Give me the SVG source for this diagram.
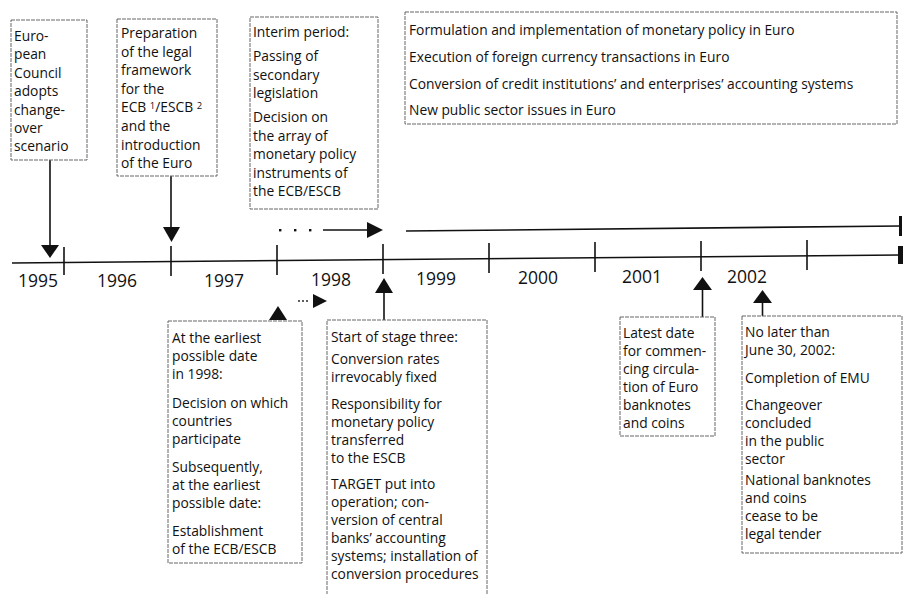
<svg xmlns="http://www.w3.org/2000/svg" width="903" height="594" viewBox="0 0 903 594">
<style>
.box{fill:#fff;stroke:#666;stroke-width:1;stroke-dasharray:4 1}
.t{font-family:"Open Sans","Liberation Sans",sans-serif;font-size:13.8px;fill:#111}
.y{font-family:"Open Sans","Liberation Sans",sans-serif;font-size:17.5px;fill:#111;text-anchor:middle}
.ln{stroke:#111;stroke-width:1.6;fill:none}
.ah{fill:#111;stroke:none}
.sup{font-size:9.5px}
</style>
<rect width="903" height="594" fill="#fff"/>

<g id="timeline">
<line class="ln" x1="12" y1="263" x2="900" y2="255" stroke-width="2"/>
<rect class="ah" x="898" y="246" width="5" height="18"/>
<g class="ln">
<line x1="64" y1="247" x2="64" y2="275"/>
<line x1="171" y1="246" x2="171" y2="276"/>
<line x1="277" y1="245" x2="277" y2="275"/>
<line x1="383" y1="244" x2="383" y2="274"/>
<line x1="489" y1="243" x2="489" y2="273"/>
<line x1="595" y1="242" x2="595" y2="272"/>
<line x1="701" y1="241" x2="701" y2="271"/>
<line x1="807" y1="240" x2="807" y2="270"/>
</g>
<text class="y" x="38" y="287">1995</text>
<text class="y" x="117" y="287">1996</text>
<text class="y" x="224" y="287">1997</text>
<text class="y" x="331" y="286">1998</text>
<text class="y" x="436" y="285">1999</text>
<text class="y" x="538" y="284">2000</text>
<text class="y" x="642" y="283">2001</text>
<text class="y" x="747" y="283">2002</text>
</g>

<g id="connectors">
<line class="ln" x1="50" y1="160" x2="50" y2="246"/>
<polygon class="ah" points="41,245 59,245 50,258"/>
<line class="ln" x1="171" y1="176" x2="171" y2="228"/>
<polygon class="ah" points="163,227 180,227 171.5,242"/>
<rect class="ah" x="279" y="229" width="2.4" height="2.4"/>
<rect class="ah" x="294" y="229" width="2.4" height="2.4"/>
<rect class="ah" x="309" y="229" width="2.4" height="2.4"/>
<line class="ln" x1="323" y1="230" x2="368" y2="230"/>
<polygon class="ah" points="367,222 367,238 383,230"/>
<line class="ln" x1="406" y1="231" x2="900" y2="226"/>
<rect class="ah" x="899" y="216" width="3" height="20"/>
<polygon class="ah" points="269,320 287,320 278,306"/>
<circle class="ah" cx="299" cy="301" r="0.9"/>
<circle class="ah" cx="303" cy="301" r="0.9"/>
<circle class="ah" cx="307" cy="301" r="0.9"/>
<polygon class="ah" points="313,294 313,308 327,301"/>
<line class="ln" x1="384" y1="292" x2="384" y2="320"/>
<polygon class="ah" points="375,293 393,293 384,278"/>
<line class="ln" x1="702.5" y1="289" x2="702.5" y2="317"/>
<polygon class="ah" points="693,290 712,290 702.5,277"/>
<line class="ln" x1="762.5" y1="302" x2="762.5" y2="316"/>
<polygon class="ah" points="753,303 772,303 762.5,290"/>
</g>

<g id="n-council">
<rect class="box" x="11" y="20" width="76" height="140"/>
<text class="t" x="14" y="41">Euro-</text>
<text class="t" x="14" y="59.4">pean</text>
<text class="t" x="14" y="77.8">Council</text>
<text class="t" x="14" y="96.2">adopts</text>
<text class="t" x="14" y="114.6">change-</text>
<text class="t" x="14" y="133">over</text>
<text class="t" x="14" y="151.4">scenario</text>
</g>

<g id="n-legal">
<rect class="box" x="117" y="19" width="100" height="157"/>
<text class="t" x="121" y="38">Preparation</text>
<text class="t" x="121" y="56.6">of the legal</text>
<text class="t" x="121" y="75.2">framework</text>
<text class="t" x="121" y="93.8">for the</text>
<text class="t" x="121" y="112.4">ECB <tspan class="sup" dy="-3">1</tspan><tspan dy="3">/ESCB </tspan><tspan class="sup" dy="-3">2</tspan></text>
<text class="t" x="121" y="131">and the</text>
<text class="t" x="121" y="149.6">introduction</text>
<text class="t" x="121" y="168.2">of the Euro</text>
</g>

<g id="n-interim">
<rect class="box" x="250" y="17" width="128" height="192"/>
<text class="t" x="253" y="37">Interim period:</text>
<text class="t" x="253" y="61">Passing of</text>
<text class="t" x="253" y="79.5">secondary</text>
<text class="t" x="253" y="98">legislation</text>
<text class="t" x="253" y="122">Decision on</text>
<text class="t" x="253" y="140.5">the array of</text>
<text class="t" x="253" y="159">monetary policy</text>
<text class="t" x="253" y="177.5">instruments of</text>
<text class="t" x="253" y="196">the ECB/ESCB</text>
</g>

<g id="n-stage3-activities">
<rect class="box" x="405" y="12" width="492" height="112"/>
<text class="t" x="409" y="35">Formulation and implementation of monetary policy in Euro</text>
<text class="t" x="409" y="62">Execution of foreign currency transactions in Euro</text>
<text class="t" x="409" y="89">Conversion of credit institutions’ and enterprises’ accounting systems</text>
<text class="t" x="409" y="115">New public sector issues in Euro</text>
</g>

<g id="n-earliest">
<rect class="box" x="168" y="321" width="134" height="242"/>
<text class="t" x="172" y="343">At the earliest</text>
<text class="t" x="172" y="361">possible date</text>
<text class="t" x="172" y="379">in 1998:</text>
<text class="t" x="172" y="407.5">Decision on which</text>
<text class="t" x="172" y="425.5">countries</text>
<text class="t" x="172" y="443.5">participate</text>
<text class="t" x="172" y="471.5">Subsequently,</text>
<text class="t" x="172" y="489.5">at the earliest</text>
<text class="t" x="172" y="507.5">possible date:</text>
<text class="t" x="172" y="536">Establishment</text>
<text class="t" x="172" y="554">of the ECB/ESCB</text>
</g>

<g id="n-start">
<rect class="box" x="327" y="320" width="160" height="290"/>
<text class="t" x="331" y="342">Start of stage three:</text>
<text class="t" x="331" y="364">Conversion rates</text>
<text class="t" x="331" y="382">irrevocably fixed</text>
<text class="t" x="331" y="409">Responsibility for</text>
<text class="t" x="331" y="427">monetary policy</text>
<text class="t" x="331" y="445">transferred</text>
<text class="t" x="331" y="463">to the ESCB</text>
<text class="t" x="331" y="489">TARGET put into</text>
<text class="t" x="331" y="507">operation; con-</text>
<text class="t" x="331" y="525">version of central</text>
<text class="t" x="331" y="543">banks’ accounting</text>
<text class="t" x="331" y="561">systems; installation of</text>
<text class="t" x="331" y="579">conversion procedures</text>
</g>

<g id="n-latest">
<rect class="box" x="620" y="317" width="95" height="119"/>
<text class="t" x="623" y="338">Latest date</text>
<text class="t" x="623" y="356">for commen-</text>
<text class="t" x="623" y="374">cing circula-</text>
<text class="t" x="623" y="392">tion of Euro</text>
<text class="t" x="623" y="410">banknotes</text>
<text class="t" x="623" y="428">and coins</text>
</g>

<g id="n-completion">
<rect class="box" x="742" y="316" width="160" height="237"/>
<text class="t" x="745" y="337">No later than</text>
<text class="t" x="745" y="355">June 30, 2002:</text>
<text class="t" x="745" y="383">Completion of EMU</text>
<text class="t" x="745" y="410">Changeover</text>
<text class="t" x="745" y="428">concluded</text>
<text class="t" x="745" y="446">in the public</text>
<text class="t" x="745" y="464">sector</text>
<text class="t" x="745" y="485">National banknotes</text>
<text class="t" x="745" y="503">and coins</text>
<text class="t" x="745" y="521">cease to be</text>
<text class="t" x="745" y="539">legal tender</text>
</g>
</svg>
